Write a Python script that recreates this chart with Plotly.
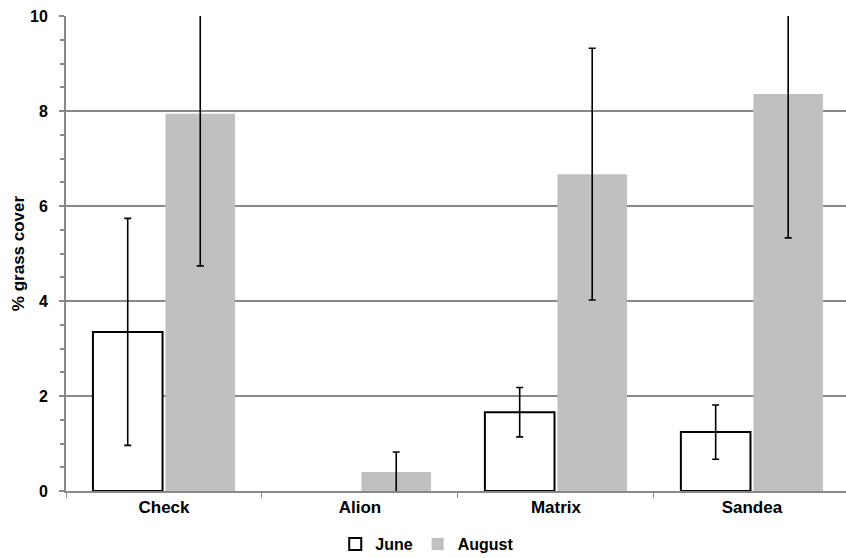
import numpy as np
import plotly.graph_objects as go

# Treatments and mean % grass cover with their error bars
treatments = ["Check", "Alion", "Matrix", "Sandea"]
june_cover = [3.35, 0.0, 1.66, 1.24]
june_err = [2.39, None, 0.52, 0.57]
august_cover = [7.94, 0.40, 6.67, 8.36]
august_err = [3.20, 0.42, 2.65, 3.03]
y_ticks = [0, 2, 4, 6, 8, 10]

FONT = "Liberation Sans, Arial, sans-serif"

# missing error values stay NaN (typed array) so no cap is drawn for them
june_err_arr = np.array([np.nan if e is None else e for e in june_err], dtype=float)

# zero-height bars get no visible outline
june_outline_w = [2 if v > 0 else 0 for v in june_cover]

fig = go.Figure()
fig.add_trace(go.Bar(
    name="June", x=treatments, y=june_cover,
    marker=dict(color="white", line=dict(color="black", width=june_outline_w)),
    error_y=dict(type="data", array=june_err_arr, visible=True,
                 color="black", thickness=1.6, width=3.5),
))
fig.add_trace(go.Bar(
    name="August", x=treatments, y=august_cover,
    marker=dict(color="#c0c0c0", line=dict(color="#c0c0c0", width=0)),
    error_y=dict(type="data", array=august_err, visible=True,
                 color="black", thickness=1.6, width=3.5),
))

fig.update_layout(
    width=846, height=558,
    margin=dict(l=66, r=0, t=16, b=67, autoexpand=False),
    paper_bgcolor="white", plot_bgcolor="white",
    barmode="group", bargap=0.26, bargroupgap=0.04,
    font=dict(family=FONT, color="black"),
    showlegend=True,
    legend=dict(orientation="h", x=0.505, xanchor="center", xref="container",
                y=0.025, yanchor="middle", yref="container",
                font=dict(size=16, weight="bold"),
                itemwidth=30, tracegroupgap=0),
)
fig.update_xaxes(
    type="category", range=[-0.5, 3.48],
    showline=True, linecolor="#888888", linewidth=2,
    ticks="outside", tickson="boundaries", ticklen=5,
    tickcolor="#888888", tickwidth=1,
    tickfont=dict(size=17, weight="bold"),
    showgrid=False, zeroline=False,
)
fig.update_yaxes(
    range=[0, 10], tickvals=y_ticks,
    showline=True, linecolor="#888888", linewidth=2,
    ticks="outside", ticklen=5, tickcolor="#888888", tickwidth=2,
    ticklabelstandoff=8,
    showgrid=True, gridcolor="#888888", gridwidth=2,
    zeroline=False,
    minor=dict(dtick=0.5, ticks="outside", ticklen=4,
               tickcolor="#888888", tickwidth=2, showgrid=False),
    tickfont=dict(size=16, weight="bold"),
    title=dict(text="% grass cover", font=dict(size=17, weight="bold"),
               standoff=1),
)

fig.write_html("out.html")
